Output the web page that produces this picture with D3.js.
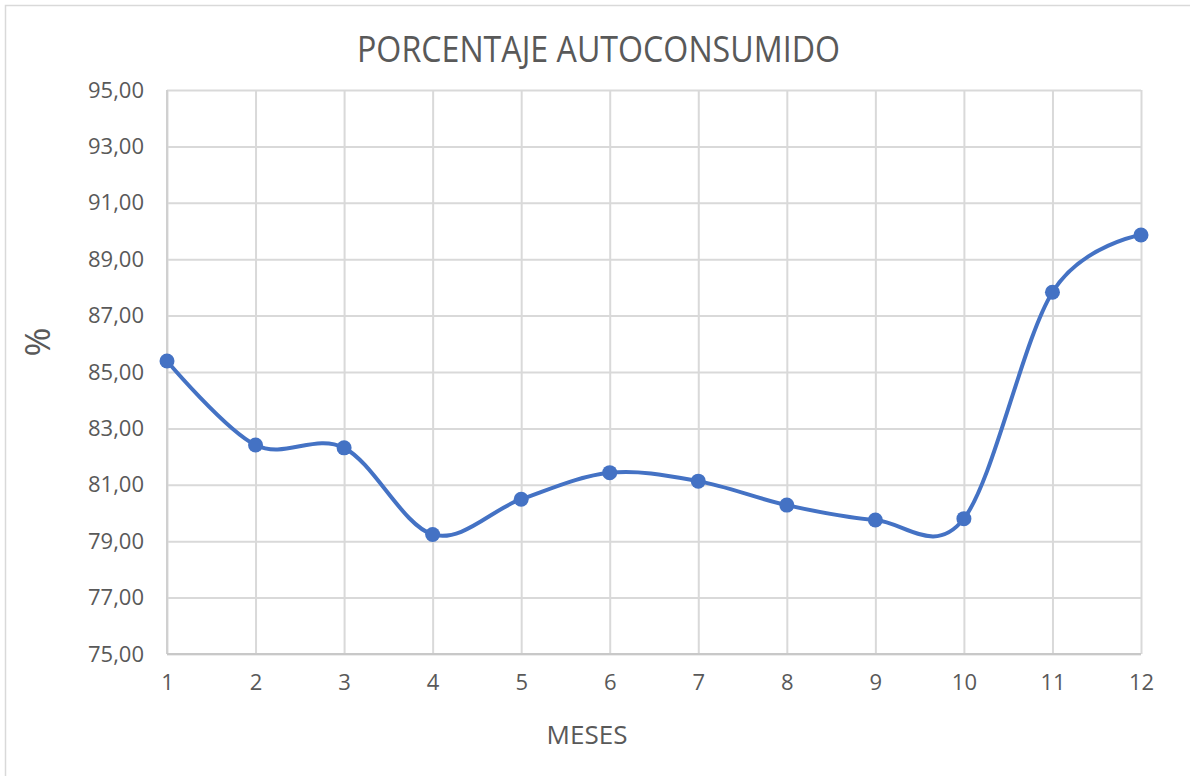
<!DOCTYPE html>
<html>
<head>
<meta charset="utf-8">
<script src="https://cdn.jsdelivr.net/npm/d3@7"></script>
<style>
  html, body { margin: 0; padding: 0; background: #fff; }
  svg { display: block; }
  text { font-family: "Open Sans", "Noto Sans", sans-serif; fill: #595959; }
</style>
</head>
<body>
<svg id="chart" width="1190" height="776"></svg>
<script>
// Monthly self-consumption percentage
const months = [1, 2, 3, 4, 5, 6, 7, 8, 9, 10, 11, 12];
const percent = [85.39, 82.41, 82.31, 79.24, 80.49, 81.43, 81.13, 80.28, 79.75, 79.80, 87.83, 89.86];
const yTicks = [75, 77, 79, 81, 83, 85, 87, 89, 91, 93, 95];

const title = "PORCENTAJE AUTOCONSUMIDO";
const xTitle = "MESES";
const yTitle = "%";

const svg = d3.select("#chart");
const W = 1190, H = 776;
const margin = { left: 167, right: 49, top: 90, bottom: 122 };

// chart frame
svg.append("rect")
  .attr("x", 5.5).attr("y", 5.5)
  .attr("width", W + 20).attr("height", H + 20)
  .attr("fill", "#fff").attr("stroke", "#d9d9d9").attr("stroke-width", 1.5);

const x = d3.scaleLinear().domain([1, 12]).range([margin.left, W - margin.right]);
const y = d3.scaleLinear().domain([75, 95]).range([H - margin.bottom, margin.top]);

const fmt = v => d3.format(".2f")(v).replace(".", ",");

// horizontal gridlines
svg.append("g")
  .attr("transform", `translate(${margin.left},0)`)
  .call(d3.axisLeft(y).tickValues(yTicks).tickSize(-(x(12) - x(1))).tickFormat(""))
  .call(g => g.select(".domain").remove())
  .call(g => g.selectAll("line").attr("stroke", "#d9d9d9").attr("stroke-width", 2));

// vertical gridlines
svg.append("g")
  .attr("transform", `translate(0,${y(75)})`)
  .call(d3.axisBottom(x).tickValues(months).tickSize(-(y(75) - y(95))).tickFormat(""))
  .call(g => g.select(".domain").remove())
  .call(g => g.selectAll("line").attr("stroke", "#d9d9d9").attr("stroke-width", 2));

// axis lines
svg.append("line")
  .attr("x1", x(1)).attr("x2", x(1)).attr("y1", y(95)).attr("y2", y(75))
  .attr("stroke", "#d0d0d0").attr("stroke-width", 2);
svg.append("line")
  .attr("x1", x(1)).attr("x2", x(12)).attr("y1", y(75)).attr("y2", y(75))
  .attr("stroke", "#c8c8c8").attr("stroke-width", 2);

// y tick labels
svg.append("g")
  .attr("transform", `translate(${margin.left},0)`)
  .call(d3.axisLeft(y).tickValues(yTicks).tickSize(0).tickPadding(23).tickFormat(fmt))
  .call(g => g.select(".domain").remove())
  .call(g => g.selectAll("text")
    .style("font-size", "22px").style("fill", "#595959")
    .style("font-family", "'Open Sans', sans-serif"));

// x tick labels
svg.append("g")
  .attr("transform", `translate(0,${y(75)})`)
  .call(d3.axisBottom(x).tickValues(months).tickSize(0).tickPadding(20).tickFormat(d3.format("d")))
  .call(g => g.select(".domain").remove())
  .call(g => g.selectAll("text")
    .style("font-size", "22px").style("fill", "#595959")
    .style("font-family", "'Open Sans', sans-serif"));

// smoothed series line
const line = d3.line()
  .x((d, i) => x(months[i]))
  .y(d => y(d))
  .curve(d3.curveCatmullRom.alpha(0));

svg.append("path")
  .datum(percent)
  .attr("d", line)
  .attr("fill", "none")
  .attr("stroke", "#4472C4")
  .attr("stroke-width", 4)
  .attr("stroke-linecap", "round");

svg.append("g")
  .selectAll("circle")
  .data(percent)
  .join("circle")
  .attr("cx", (d, i) => x(months[i]))
  .attr("cy", d => y(d))
  .attr("r", 7.5)
  .attr("fill", "#4472C4");

// titles
svg.append("text")
  .attr("x", 598.5).attr("y", 62)
  .attr("text-anchor", "middle")
  .attr("textLength", 483).attr("lengthAdjust", "spacingAndGlyphs")
  .style("font-size", "37px")
  .text(title);

svg.append("text")
  .attr("x", 587).attr("y", 744)
  .attr("text-anchor", "middle")
  .style("font-size", "26px")
  .text(xTitle);

svg.append("text")
  .attr("transform", "translate(50,342) rotate(-90)")
  .attr("text-anchor", "middle")
  .style("font-size", "35px")
  .text(yTitle);
</script>
</body>
</html>
